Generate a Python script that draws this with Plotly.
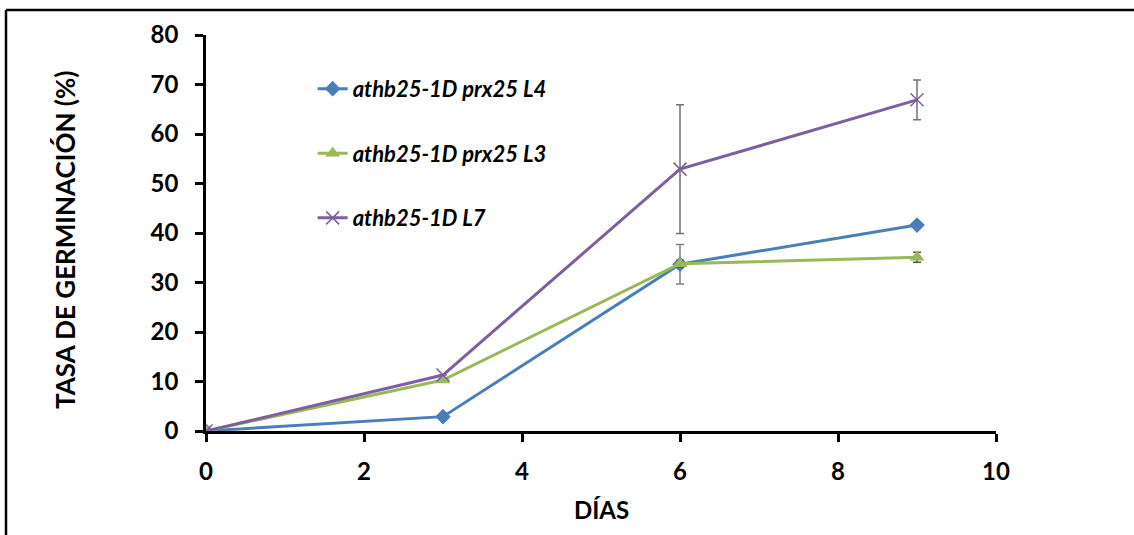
import plotly.graph_objects as go

dias = [0, 3, 6, 9]
l4 = [0, 2.9, 33.7, 41.6]
l4_err = [0, 0, 4.0, 0.5]
l3 = [0, 10.3, 33.8, 35.1]
l3_err = [0, 0, 0.7, 1.0]
l7 = [0, 11.3, 52.9, 66.9]
l7_err = [0, 0, 13.0, 4.0]

names = ["athb25-1D prx25 L4", "athb25-1D prx25 L3", "athb25-1D L7"]
colors = ["#4a7ebb", "#98b954", "#7d5fa0"]

fig = go.Figure()
fig.add_trace(go.Scatter(x=dias, y=l4, name=names[0], mode="lines+markers",
                         line=dict(color=colors[0], width=3),
                         marker=dict(symbol="diamond", size=12, color=colors[0]),
                         error_y=dict(type="data", array=l4_err, color="#808080", thickness=1.5, width=4),
                         legendgroup="a"))
fig.add_trace(go.Scatter(x=dias, y=l3, name=names[1], mode="lines+markers",
                         line=dict(color=colors[1], width=3),
                         marker=dict(symbol="triangle-up", size=13, color=colors[1]),
                         error_y=dict(type="data", array=l3_err, color="#555555", thickness=1.5, width=4),
                         legendgroup="b"))
fig.add_trace(go.Scatter(x=dias, y=l7, name=names[2], mode="lines+markers",
                         line=dict(color=colors[2], width=3),
                         marker=dict(symbol="x-thin", size=13, line=dict(color=colors[2], width=1.5)),
                         error_y=dict(type="data", array=l7_err, color="#707070", thickness=1.5, width=4),
                         legendgroup="c"))

font_fam = "Lato, 'Open Sans', sans-serif"

fig.update_layout(
    width=1134, height=535,
    margin=dict(l=206, r=138, t=35, b=104),
    paper_bgcolor="white", plot_bgcolor="white",
    font=dict(family=font_fam, color="black"),
    showlegend=True,
    legend=dict(x=0.135, y=0.917, xanchor="left", yanchor="top",
                bgcolor="rgba(0,0,0,0)", tracegroupgap=33,
                traceorder="grouped",
                font=dict(size=22, weight="bold", style="italic", color="black", family=font_fam),
                itemwidth=30),
    xaxis=dict(range=[0, 10], tickvals=[0, 2, 4, 6, 8, 10], showgrid=False, zeroline=False,
               showline=True, linecolor="black", linewidth=2.5,
               ticks="outside", ticklen=8, tickwidth=2.5, tickcolor="black",
               ticklabelstandoff=9,
               tickfont=dict(size=24, weight="bold", family=font_fam)),
    yaxis=dict(range=[0, 80], tickvals=[0, 10, 20, 30, 40, 50, 60, 70, 80], showgrid=False, zeroline=False,
               showline=True, linecolor="black", linewidth=2.5,
               ticks="outside", ticklen=8, tickwidth=2.5, tickcolor="black",
               ticklabelstandoff=12,
               tickfont=dict(size=24, weight="bold", family=font_fam)),
    annotations=[
        dict(text="DÍAS", xref="paper", yref="paper", x=0.5, y=-(510 - 431) / 396,
             xanchor="center", yanchor="middle", showarrow=False,
             font=dict(size=24, weight="bold", family=font_fam)),
        dict(text="TASA DE GERMINACIÓN (%)", xref="paper", yref="paper", x=-(206 - 65) / 790,
             y=(431 - 240) / 396, xanchor="center", yanchor="middle", textangle=-90, showarrow=False,
             font=dict(size=26, weight="bold", family=font_fam)),
    ],
    shapes=[
        dict(type="line", xref="paper", yref="paper", x0=-(206 - 6) / 790, x1=-(206 - 6) / 790,
             y0=-(545 - 431) / 396, y1=(431 - 10) / 396, line=dict(color="black", width=2.5)),
        dict(type="line", xref="paper", yref="paper", x0=-(206 - 6) / 790, x1=(1140 - 206) / 790,
             y0=(431 - 10) / 396, y1=(431 - 10) / 396, line=dict(color="black", width=2.5)),
    ],
)

fig.write_html("out.html")
